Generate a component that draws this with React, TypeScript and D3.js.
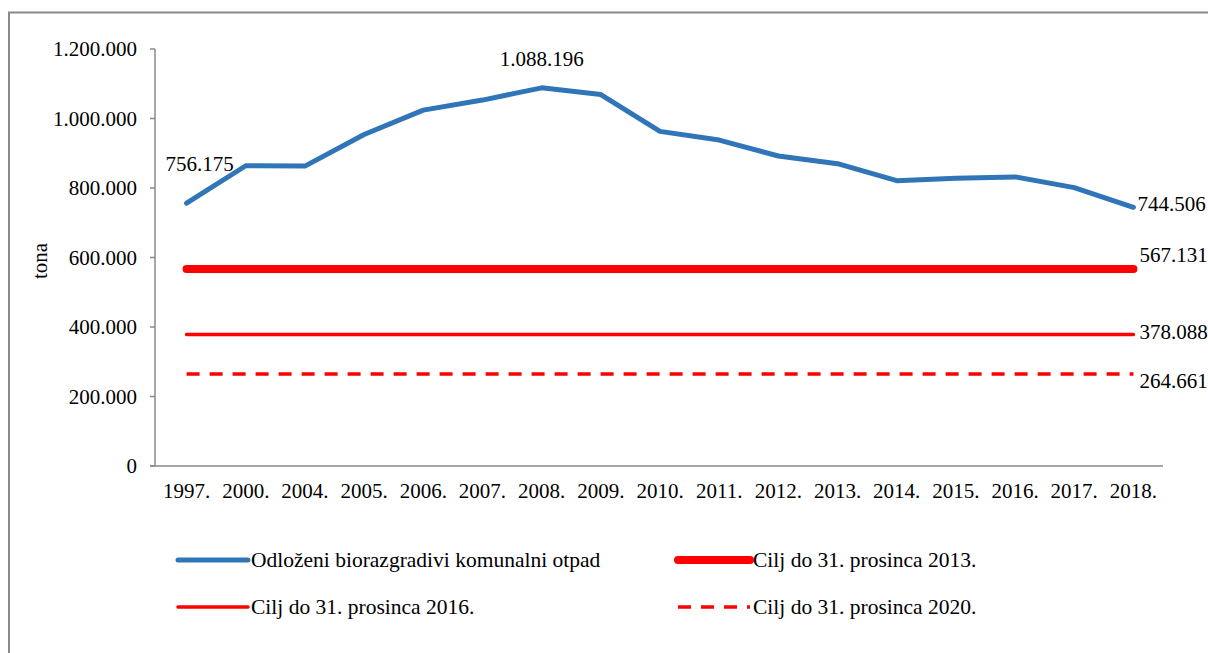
import * as d3 from 'd3'

// x categories (years) as printed on the axis
const years = ['1997.', '2000.', '2004.', '2005.', '2006.', '2007.', '2008.', '2009.', '2010.',
  '2011.', '2012.', '2013.', '2014.', '2015.', '2016.', '2017.', '2018.']

// Odloženi biorazgradivi komunalni otpad (tona)
const waste = [756175, 864000, 863000, 954000, 1024000, 1053000, 1088196, 1069000, 963000,
  938000, 892000, 870000, 821000, 828000, 832000, 801000, 744506]

// targets
const targetNames = ['Cilj do 31. prosinca 2013.', 'Cilj do 31. prosinca 2016.', 'Cilj do 31. prosinca 2020.']
const targetValues = [567131, 378088, 264661]

const yTicks = [0, 200000, 400000, 600000, 800000, 1000000, 1200000]

const W = 1208
const H = 653
const FONT = "'Liberation Serif', 'Times New Roman', Times, serif"
const BLUE = '#2f75b8'
const RED = '#ff0000'
const AXIS = '#8a8a8a'

const loc = d3.formatLocale({ decimal: ',', thousands: '.', grouping: [3], currency: ['', ''] })
const fmt = loc.format(',')

export default function App() {
  const x = d3.scalePoint<string>().domain(years).range([157, 1163]).padding(0.5)
  const y = d3.scaleLinear().domain([0, 1200000]).range([466, 49])

  const line = d3.line<number>()
    .x((_, i) => x(years[i]) as number)
    .y(d => y(d))
    .curve(d3.curveLinear)

  const x0 = x(years[0]) as number
  const x1 = x(years[years.length - 1]) as number

  // style of each target line
  const targetStyle = [
    { width: 8, dash: undefined as string | undefined },
    { width: 3.5, dash: undefined as string | undefined },
    { width: 3.5, dash: '13,10' },
  ]
  // vertical offsets of the end labels
  const targetDy = [-7, 4, 14]

  const last = waste.length - 1
  const peak = waste.indexOf(d3.max(waste) as number)

  return (
    <svg width={W} height={H}
      style={{ position: 'absolute', left: 0, top: 0, background: '#fff', fontFamily: FONT, fontSize: '21px' }}
      fill="#000">
      {/* outer frame */}
      <rect x={9} y={12.5} width={W + 20} height={H + 20} fill="none" stroke={AXIS} strokeWidth={2} />

      {/* y axis */}
      <line x1={155} x2={155} y1={y(1200000)} y2={y(0)} stroke={AXIS} strokeWidth={1.5} />
      {yTicks.map(t => (
        <g key={t}>
          <line x1={150} x2={155} y1={y(t)} y2={y(t)} stroke={AXIS} strokeWidth={1.5} />
          <text x={137} y={y(t)} dy="0.35em" textAnchor="end">{fmt(t)}</text>
        </g>
      ))}
      <text transform={`translate(47,${y(590000)}) rotate(-90)`} textAnchor="middle">tona</text>

      {/* x axis */}
      <line x1={150} x2={1163} y1={y(0)} y2={y(0)} stroke={AXIS} strokeWidth={1.5} />
      {years.map(d => (
        <text key={d} x={x(d)} y={498} textAnchor="middle">{d}</text>
      ))}

      {/* target lines */}
      {targetValues.map((v, i) => (
        <line key={v} x1={x0} x2={x1} y1={y(v)} y2={y(v)} stroke={RED}
          strokeWidth={targetStyle[i].width} strokeDasharray={targetStyle[i].dash}
          strokeLinecap={targetStyle[i].dash ? 'butt' : 'round'} />
      ))}
      {targetValues.map((v, i) => (
        <text key={'l' + v} x={x1 + 6} y={y(v) + targetDy[i]}>{fmt(v)}</text>
      ))}

      {/* main series */}
      <path d={line(waste) as string} fill="none" stroke={BLUE} strokeWidth={5}
        strokeLinejoin="round" strokeLinecap="round" />
      <text x={x0 + 13} y={y(waste[0]) - 32} textAnchor="middle">{fmt(waste[0])}</text>
      <text x={x(years[peak]) as number} y={y(waste[peak]) - 22} textAnchor="middle">{fmt(waste[peak])}</text>
      <text x={x1 + 4} y={y(waste[last]) + 4}>{fmt(waste[last])}</text>

      {/* legend */}
      <g fontSize="21.5px">
        <line x1={178} x2={248} y1={560} y2={560} stroke={BLUE} strokeWidth={5} strokeLinecap="round" />
        <text x={251} y={567}>Odloženi biorazgradivi komunalni otpad</text>
        <line x1={678} x2={750} y1={560} y2={560} stroke={RED} strokeWidth={8} strokeLinecap="round" />
        <text x={753} y={567}>{targetNames[0]}</text>
        <line x1={178} x2={248} y1={607} y2={607} stroke={RED} strokeWidth={3.5} strokeLinecap="round" />
        <text x={251} y={614}>{targetNames[1]}</text>
        <line x1={678} x2={750} y1={607} y2={607} stroke={RED} strokeWidth={3.5} strokeDasharray="13,10" />
        <text x={753} y={614}>{targetNames[2]}</text>
      </g>
    </svg>
  )
}
